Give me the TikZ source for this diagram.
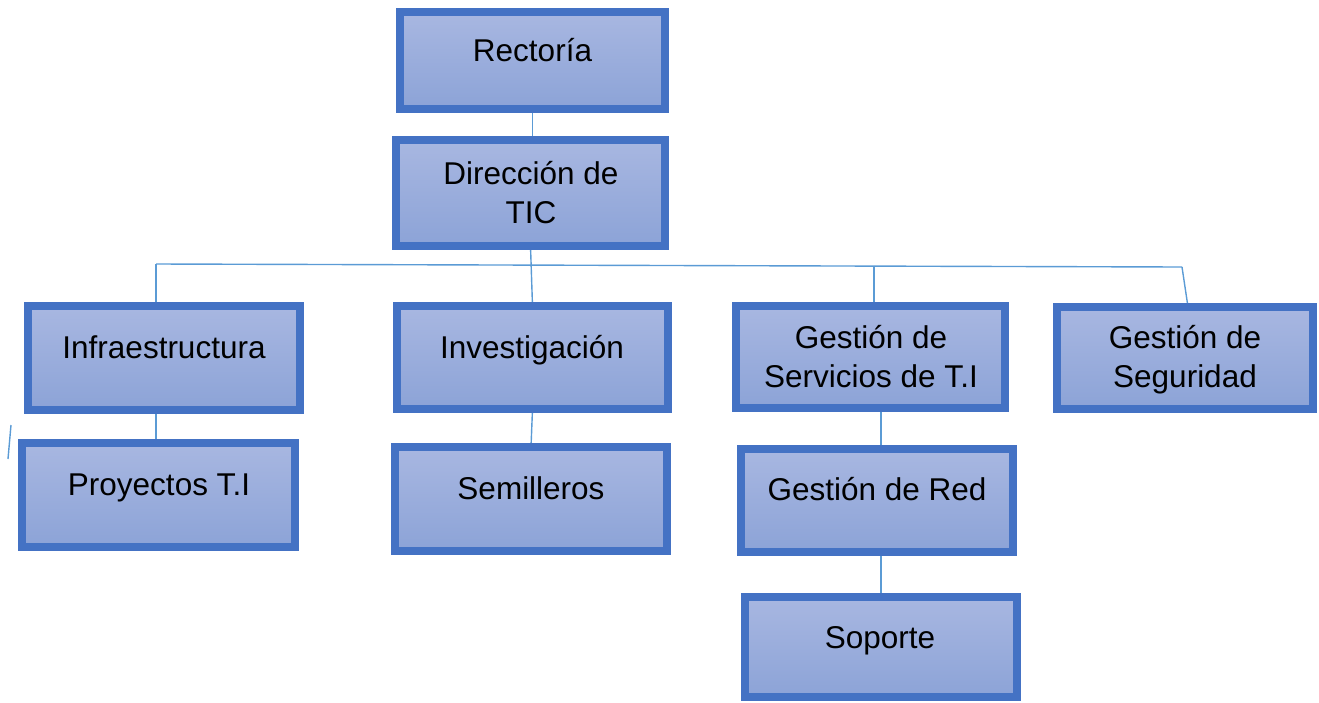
\documentclass[tikz,border=0pt]{standalone}
\usepackage{fontspec}
\setmainfont{Liberation Sans}
\usetikzlibrary{backgrounds}
\definecolor{bordercol}{HTML}{4472C4}
\definecolor{filltop}{HTML}{A8B7E1}
\definecolor{fillbot}{HTML}{8CA3D7}
\definecolor{linkcol}{HTML}{5B9BD5}
\tikzset{
  orgbox/.style={rectangle, draw=bordercol, line width=8pt, inner sep=0pt, outer sep=0pt,
    top color=filltop, bottom color=fillbot},
  orgtext/.style={anchor=base, align=center, inner sep=0pt, text=black,
    font=\fontsize{31.5}{39}\selectfont},
  link/.style={draw=linkcol, line width=1.4pt},
}
\begin{document}
\begin{tikzpicture}[x=1pt,y=-1pt]
\useasboundingbox (0,0) rectangle (1319,702);
% boxes
\node[orgbox, minimum width=265pt, minimum height=97pt]  (rect)  at (532.5,60.5) {};
\node[orgbox, minimum width=269pt, minimum height=106pt] (dir)   at (530.5,193) {};
\node[orgbox, minimum width=272pt, minimum height=104pt] (infra) at (164,358) {};
\node[orgbox, minimum width=271pt, minimum height=103pt] (inv)   at (532.5,357.5) {};
\node[orgbox, minimum width=269pt, minimum height=102pt] (gserv) at (870.5,357) {};
\node[orgbox, minimum width=256pt, minimum height=102pt] (gseg)  at (1185,358) {};
\node[orgbox, minimum width=273pt, minimum height=104pt] (proy)  at (158.5,495) {};
\node[orgbox, minimum width=272pt, minimum height=104pt] (semi)  at (531,499) {};
\node[orgbox, minimum width=272pt, minimum height=103pt] (gred)  at (877,500.5) {};
\node[orgbox, minimum width=272pt, minimum height=100pt] (sop)   at (881,647) {};
% texts (base anchor = baseline of last line)
\node[orgtext] (rect-t)  at (532.5,61)  {Rectoría};
\node[orgtext] (dir-t)   at (531,223)   {Dirección de\\TIC};
\node[orgtext] (infra-t) at (164,358)   {Infraestructura};
\node[orgtext] (inv-t)   at (532,358)   {Investigación};
\node[orgtext] (gserv-t) at (871,387)   {Gestión de\\Servicios de T.I};
\node[orgtext] (gseg-t)  at (1185,387)  {Gestión de\\Seguridad};
\node[orgtext] (proy-t)  at (159,495)   {Proyectos T.I};
\node[orgtext] (semi-t)  at (531,499)   {Semilleros};
\node[orgtext] (gred-t)  at (877,500)   {Gestión de Red};
\node[orgtext] (sop-t)   at (880,648)   {Soporte};
% connector points
\coordinate (hL) at (156,264);
\coordinate (hS) at (874,265.5);
\coordinate (hR) at (1182,267);
\coordinate (st1) at (11,425);
\coordinate (st2) at (8,459);
\begin{scope}[on background layer]
  \draw[link] (rect.south) -- (rect.south |- dir.north);
  \draw[link] (dir.south) -- (inv.north);
  \draw[link] (hL) -- (hR);
  \draw[link] (hL) -- (hL |- infra.north);
  \draw[link] (hS) -- (hS |- gserv.north);
  \draw[link] (hR) -- ([xshift=3pt]gseg.north);
  \draw[link] (infra.south -| hL) -- (proy.north -| hL);
  \draw[link] (inv.south) -- (semi.north);
  \draw[link] (gserv.south -| sop.north) -- (gred.north -| sop.north);
  \draw[link] (gred.south -| sop.north) -- (sop.north);
  \draw[link] (st1) -- (st2);
\end{scope}
\end{tikzpicture}
\end{document}
